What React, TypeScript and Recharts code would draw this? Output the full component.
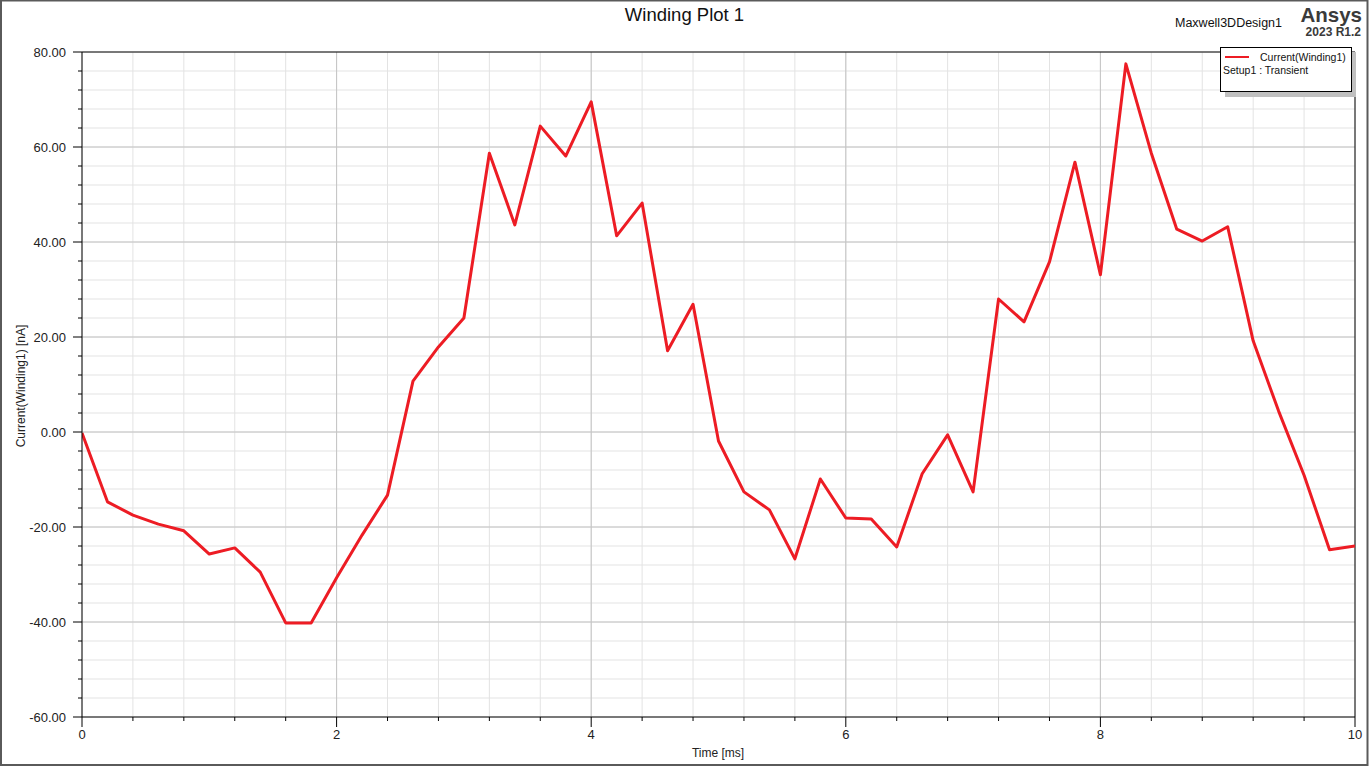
import React from 'react';
import { LineChart, Line, XAxis, YAxis, CartesianGrid, ReferenceLine } from 'recharts';

const timeMs = [0, 0.2, 0.4, 0.6, 0.8, 1.0, 1.2, 1.4, 1.6, 1.8, 2.0, 2.2, 2.4, 2.6, 2.8, 3.0, 3.2, 3.4, 3.6, 3.8, 4.0, 4.2, 4.4, 4.6, 4.8, 5.0, 5.2, 5.4, 5.6, 5.8, 6.0, 6.2, 6.4, 6.6, 6.8, 7.0, 7.2, 7.4, 7.6, 7.8, 8.0, 8.2, 8.4, 8.6, 8.8, 9.0, 9.2, 9.4, 9.6, 9.8, 10.0];
const currentNA = [-0.2, -14.7, -17.5, -19.4, -20.8, -25.7, -24.4, -29.5, -40.2, -40.2, -30.7, -21.7, -13.3, 10.7, 17.9, 24.0, 58.7, 43.6, 64.4, 58.1, 69.5, 41.3, 48.2, 17.1, 26.9, -1.9, -12.6, -16.4, -26.7, -9.9, -18.1, -18.3, -24.2, -8.8, -0.6, -12.6, 28.0, 23.2, 35.8, 56.8, 33.1, 77.5, 58.7, 42.7, 40.2, 43.2, 19.2, 4.4, -9.1, -24.8, -24.0];

const xTicks = [0, 0.4, 0.8, 1.2, 1.6, 2, 2.4, 2.8, 3.2, 3.6, 4, 4.4, 4.8, 5.2, 5.6, 6, 6.4, 6.8, 7.2, 7.6, 8, 8.4, 8.8, 9.2, 9.6, 10];
const xMajor = [2, 4, 6, 8];
const yTicks = [-60, -56, -52, -48, -44, -40, -36, -32, -28, -24, -20, -16, -12, -8, -4, 0, 4, 8, 12, 16, 20, 24, 28, 32, 36, 40, 44, 48, 52, 56, 60, 64, 68, 72, 76, 80];
const yMajor = [-40, -20, 0, 20, 40, 60];

const data = timeMs.map((t, i) => ({ t, v: currentNA[i] }));

const FONT = '"Liberation Sans", Arial, sans-serif';

const isMajorX = (v: number) => Math.abs(v / 2 - Math.round(v / 2)) < 1e-6;
const isMajorY = (v: number) => Math.abs(v / 20 - Math.round(v / 20)) < 1e-6;

const XTick = (props: any) => {
  const { x, y, payload } = props;
  const major = isMajorX(payload.value);
  return (
    <g>
      <line x1={x} x2={x} y1={y} y2={y + (major ? 10 : 4)} stroke="#000" strokeWidth={1} />
      {major && (
        <text x={x} y={y + 22} textAnchor="middle" fontSize={13} fontFamily={FONT} fill="#222">
          {Math.round(payload.value)}
        </text>
      )}
    </g>
  );
};

const YTick = (props: any) => {
  const { x, y, payload } = props;
  const major = isMajorY(payload.value);
  return (
    <g>
      <line x1={x - (major ? 9 : 4)} x2={x} y1={y} y2={y} stroke="#000" strokeWidth={1} />
      {major && (
        <text x={x - 16} y={y + 4.5} textAnchor="end" fontSize={13} fontFamily={FONT} fill="#222">
          {payload.value.toFixed(2)}
        </text>
      )}
    </g>
  );
};

export default function App() {
  return (
    <div style={{ position: 'absolute', left: 0, top: 0, width: 1369, height: 766, background: '#fff' }}>
      <LineChart width={1369} height={766} data={data} margin={{ top: 52, right: 14, bottom: 19, left: 12 }}>
        <CartesianGrid stroke="#e3e3e3" strokeWidth={1} />
        <XAxis
          dataKey="t"
          type="number"
          domain={[0, 10]}
          ticks={xTicks}
          interval={0}
          tickSize={0}
          tickMargin={0}
          tickLine={false}
          tick={<XTick />}
          axisLine={{ stroke: '#000', strokeWidth: 1 }}
          height={30}
          allowDataOverflow
        />
        <YAxis
          type="number"
          domain={[-60, 80]}
          ticks={yTicks}
          interval={0}
          tickSize={0}
          tickMargin={0}
          tickLine={false}
          tick={<YTick />}
          axisLine={{ stroke: '#000', strokeWidth: 1 }}
          width={70}
          allowDataOverflow
        />
        {xMajor.map((v) => (
          <ReferenceLine key={'xm' + v} x={v} stroke="#c4c4c4" strokeWidth={1} />
        ))}
        {yMajor.map((v) => (
          <ReferenceLine key={'ym' + v} y={v} stroke="#c4c4c4" strokeWidth={1} />
        ))}
        <ReferenceLine y={80} stroke="#000" strokeWidth={1} />
        <ReferenceLine x={10} stroke="#000" strokeWidth={1} />
        <Line
          type="linear"
          dataKey="v"
          stroke="#ed1c24"
          strokeWidth={3}
          dot={false}
          isAnimationActive={false}
          strokeLinejoin="round"
        />
      </LineChart>
      <svg width={1369} height={766} style={{ position: 'absolute', left: 0, top: 0, pointerEvents: 'none' }}>
        <text x={684.5} y={21} textAnchor="middle" fontSize={18.5} fontFamily={FONT} fill="#111">Winding Plot 1</text>
        <text x={1175} y={27} fontSize={12.5} fontFamily={FONT} fill="#111">Maxwell3DDesign1</text>
        <text x={1362} y={22} textAnchor="end" fontSize={20.5} fontWeight="bold" fontFamily={FONT} fill="#3a3a3a">Ansys</text>
        <text x={1361} y={36} textAnchor="end" fontSize={12} fontWeight="bold" fontFamily={FONT} fill="#3a3a3a">2023 R1.2</text>
        <text x={718} y={757} textAnchor="middle" fontSize={12} fontFamily={FONT} fill="#222">Time [ms]</text>
        <text x={0} y={0} transform="translate(25,386) rotate(-90)" textAnchor="middle" fontSize={12} fontFamily={FONT} fill="#222">Current(Winding1) [nA]</text>
        <rect x={1225} y={52} width={131} height={45} fill="#c0c0c0" />
        <rect x={1220.5} y={47.5} width={131} height={44} fill="#fff" stroke="#000" strokeWidth={1} />
        <line x1={1225} x2={1249} y1={57} y2={57} stroke="#ed1c24" strokeWidth={2} />
        <text x={1260} y={61} fontSize={10.5} fontFamily={FONT} fill="#111">Current(Winding1)</text>
        <text x={1223} y={74} fontSize={10.5} fontFamily={FONT} fill="#111">Setup1 : Transient</text>
        <rect x={1} y={0.5} width={1366.5} height={764.5} fill="none" stroke="#5a5a5a" strokeWidth={2} />
      </svg>
    </div>
  );
}
